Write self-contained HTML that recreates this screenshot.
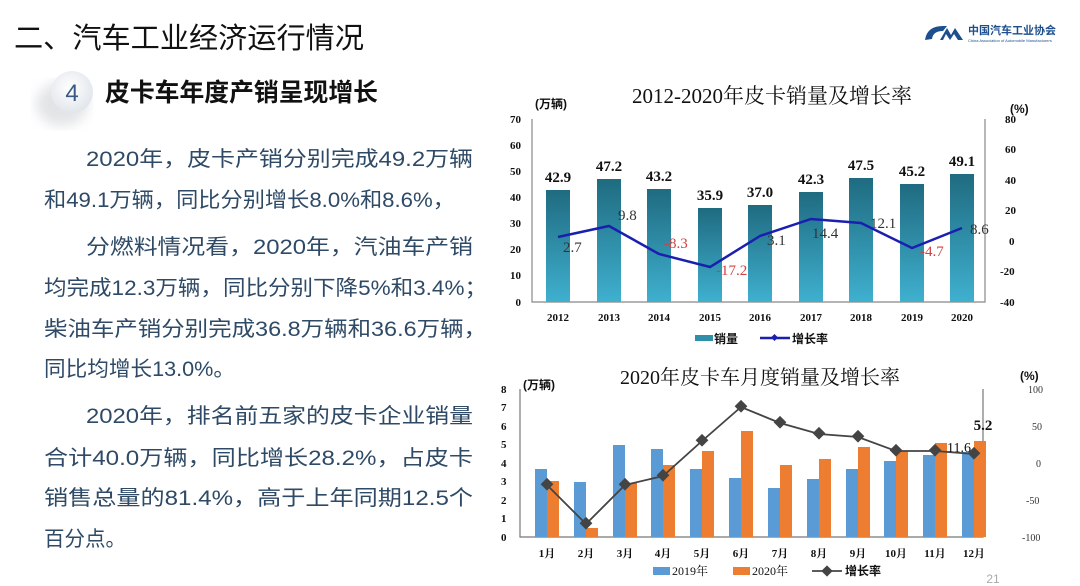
<!DOCTYPE html>
<html><head><meta charset="utf-8"><style>
html,body{margin:0;padding:0;background:#fff;}
svg{display:block;font-family:"Liberation Sans","Noto Sans CJK SC",sans-serif;}
.s{font-family:"Liberation Serif","Noto Serif CJK SC",serif;}
</style></head><body>
<svg width="1080" height="586" viewBox="0 0 1080 586" xmlns="http://www.w3.org/2000/svg">
<defs>
<linearGradient id="bg1" x1="0" y1="0" x2="0" y2="1"><stop offset="0" stop-color="#1f6b80"/><stop offset="1" stop-color="#3fb0cf"/></linearGradient>
<radialGradient id="cg" cx="0.45" cy="0.4" r="0.7"><stop offset="0" stop-color="#fff"/><stop offset="1" stop-color="#dde2e8"/></radialGradient>
<filter id="bl"><feGaussianBlur stdDeviation="6"/></filter>
</defs>
<!-- header -->
<text x="14" y="48" font-size="29" fill="#111" textLength="350" lengthAdjust="spacingAndGlyphs">二、汽车工业经济运行情况</text>
<path d="M925 40 q2 -14 18 -14 l4 0 l-4 5 q-10 0 -11 8 z" fill="#1d4f8f"/>
<path d="M940 40 l7 -12 l4 7 l4 -7 l8 12 h-5 l-4 -6 l-4 6 l-4 -6 l-3 6z" fill="#1d4f8f"/>
<text x="968" y="34" font-size="11" font-weight="bold" fill="#1d4f8f">中国汽车工业协会</text>
<text x="968" y="42" font-size="4" fill="#1d4f8f">China Association of Automobile Manufacturers</text>
<ellipse cx="62" cy="104" rx="26" ry="22" fill="#cfd2d6" opacity="0.6" filter="url(#bl)"/>
<circle cx="72" cy="92" r="21" fill="url(#cg)"/>
<text x="72" y="101" font-size="24" fill="#3a5a85" text-anchor="middle">4</text>
<text x="105" y="101" font-size="25" font-weight="bold" fill="#111" textLength="273" lengthAdjust="spacingAndGlyphs">皮卡车年度产销呈现增长</text>
<!-- body text -->
<g font-size="21" fill="#2e4a66">
<text x="86" y="166" textLength="387" lengthAdjust="spacingAndGlyphs">2020年，皮卡产销分别完成49.2万辆</text>
<text x="44" y="207" textLength="411" lengthAdjust="spacingAndGlyphs">和49.1万辆，同比分别增长8.0%和8.6%，</text>
<text x="86" y="254" textLength="387" lengthAdjust="spacingAndGlyphs">分燃料情况看，2020年，汽油车产销</text>
<text x="44" y="295" textLength="443" lengthAdjust="spacingAndGlyphs">均完成12.3万辆，同比分别下降5%和3.4%；</text>
<text x="44" y="336" textLength="443" lengthAdjust="spacingAndGlyphs">柴油车产销分别完成36.8万辆和36.6万辆，</text>
<text x="44" y="376" textLength="191" lengthAdjust="spacingAndGlyphs">同比均增长13.0%。</text>
<text x="86" y="423" textLength="387" lengthAdjust="spacingAndGlyphs">2020年，排名前五家的皮卡企业销量</text>
<text x="44" y="465" textLength="429" lengthAdjust="spacingAndGlyphs">合计40.0万辆，同比增长28.2%，占皮卡</text>
<text x="44" y="505" textLength="429" lengthAdjust="spacingAndGlyphs">销售总量的81.4%，高于上年同期12.5个</text>
<text x="44" y="546" textLength="82" lengthAdjust="spacingAndGlyphs">百分点。</text>
</g>

<!-- chart 1 -->
<text x="772" y="103" class="s" font-size="21" fill="#111" text-anchor="middle">2012-2020年皮卡销量及增长率</text>
<text x="535" y="108" font-size="12" font-weight="bold" fill="#111">(万辆)</text>
<text x="1010" y="113" font-size="12" font-weight="bold" fill="#111">(%)</text>
<g font-size="11" font-weight="bold" fill="#111" class="s" text-anchor="end">
<text x="521" y="123">70</text><text x="521" y="149">60</text><text x="521" y="175">50</text><text x="521" y="201">40</text><text x="521" y="227">30</text><text x="521" y="253">20</text><text x="521" y="279">10</text><text x="521" y="306">0</text>
</g>
<g font-size="11" font-weight="bold" fill="#111" class="s">
<text x="1005" y="123">80</text><text x="1005" y="153">60</text><text x="1005" y="184">40</text><text x="1005" y="214">20</text><text x="1009" y="245">0</text><text x="1000" y="275">-20</text><text x="1000" y="306">-40</text>
</g>
<polyline points="532,119 532,302 985,302 985,119" fill="none" stroke="#888" stroke-width="1.2"/>
<g fill="url(#bg1)">
<rect x="546" y="190" width="24" height="112"/>
<rect x="597" y="179" width="24" height="123"/>
<rect x="647" y="189" width="24" height="113"/>
<rect x="698" y="208" width="24" height="94"/>
<rect x="748" y="205" width="24" height="97"/>
<rect x="799" y="192" width="24" height="110"/>
<rect x="849" y="178" width="24" height="124"/>
<rect x="900" y="184" width="24" height="118"/>
<rect x="950" y="174" width="24" height="128"/>
</g>
<g class="s" font-size="15" font-weight="bold" fill="#111" text-anchor="middle">
<text x="558" y="182">42.9</text><text x="609" y="171">47.2</text><text x="659" y="181">43.2</text><text x="710" y="200">35.9</text><text x="760" y="197">37.0</text><text x="811" y="184">42.3</text><text x="861" y="170">47.5</text><text x="912" y="176">45.2</text><text x="962" y="166">49.1</text>
</g>
<polyline points="558,237 609,226 659,254 710,267 760,236 811,219 861,223 912,248 962,228" fill="none" stroke="#1a1fb0" stroke-width="2.5"/>
<g class="s" font-size="15" fill="#333">
<text x="563" y="252">2.7</text><text x="618" y="220">9.8</text><text x="767" y="245">3.1</text><text x="812" y="238">14.4</text><text x="870" y="228">12.1</text><text x="970" y="234">8.6</text>
</g>
<g class="s" font-size="15" fill="#d04040">
<text x="664" y="248">-8.3</text><text x="716" y="275">-17.2</text><text x="920" y="256">-4.7</text>
</g>
<g class="s" font-size="11" font-weight="bold" fill="#111" text-anchor="middle">
<text x="558" y="321">2012</text><text x="609" y="321">2013</text><text x="659" y="321">2014</text><text x="710" y="321">2015</text><text x="760" y="321">2016</text><text x="811" y="321">2017</text><text x="861" y="321">2018</text><text x="912" y="321">2019</text><text x="962" y="321">2020</text>
</g>
<rect x="695" y="335" width="18" height="6" fill="#2f8fa8"/>
<text x="714" y="343" font-size="12" font-weight="bold" fill="#111">销量</text>
<line x1="760" y1="338" x2="790" y2="338" stroke="#1a1fb0" stroke-width="2.5"/>
<rect x="772" y="335" width="5" height="5" fill="#1a1fb0" transform="rotate(45 774.5 337.5)"/>
<text x="792" y="343" font-size="12" font-weight="bold" fill="#111">增长率</text>

<!-- chart 2 -->
<text x="760" y="384" font-size="20" fill="#111" text-anchor="middle" class="s">2020年皮卡车月度销量及增长率</text>
<text x="523" y="389" font-size="12" font-weight="bold" fill="#111">(万辆)</text>
<text x="1020" y="380" font-size="12" font-weight="bold" fill="#111">(%)</text>
<g font-size="11" font-weight="bold" fill="#111" class="s">
<text x="501" y="393">8</text><text x="501" y="411">7</text><text x="501" y="430">6</text><text x="501" y="448">5</text><text x="501" y="467">4</text><text x="501" y="485">3</text><text x="501" y="504">2</text><text x="501" y="522">1</text><text x="501" y="541">0</text>
</g>
<g font-size="10" fill="#333" class="s">
<text x="1028" y="393">100</text><text x="1032" y="430">50</text><text x="1036" y="467">0</text><text x="1026" y="504">-50</text><text x="1022" y="541">-100</text>
</g>
<polyline points="520,389 520,537 983,537 983,389" fill="none" stroke="#777" stroke-width="1.2"/>
<g fill="#5b9bd5">
<rect x="535" y="469" width="12" height="68"/><rect x="574" y="482" width="12" height="55"/><rect x="613" y="445" width="12" height="92"/><rect x="651" y="449" width="12" height="88"/><rect x="690" y="469" width="12" height="68"/><rect x="729" y="478" width="12" height="59"/><rect x="768" y="488" width="12" height="49"/><rect x="807" y="479" width="12" height="58"/><rect x="846" y="469" width="12" height="68"/><rect x="884" y="461" width="12" height="76"/><rect x="923" y="455" width="12" height="82"/><rect x="962" y="452" width="12" height="85"/>
</g>
<g fill="#ed7d31">
<rect x="547" y="481" width="12" height="56"/><rect x="586" y="528" width="12" height="9"/><rect x="625" y="483" width="12" height="54"/><rect x="663" y="465" width="12" height="72"/><rect x="702" y="451" width="12" height="86"/><rect x="741" y="431" width="12" height="106"/><rect x="780" y="465" width="12" height="72"/><rect x="819" y="459" width="12" height="78"/><rect x="858" y="447" width="12" height="90"/><rect x="896" y="451" width="12" height="86"/><rect x="935" y="443" width="12" height="94"/><rect x="974" y="441" width="12" height="96"/>
</g>
<polyline points="547,485 586,524 625,485 663,476 702,441 741,407 780,423 819,434 858,437 896,451 935,451 974,454" fill="none" stroke="#444" stroke-width="1.8"/>
<g fill="#444">
<rect x="542" y="480" width="9" height="9" transform="rotate(45 547 485)"/><rect x="581" y="519" width="9" height="9" transform="rotate(45 586 524)"/><rect x="620" y="480" width="9" height="9" transform="rotate(45 625 485)"/><rect x="658" y="471" width="9" height="9" transform="rotate(45 663 476)"/><rect x="697" y="436" width="9" height="9" transform="rotate(45 702 441)"/><rect x="736" y="402" width="9" height="9" transform="rotate(45 741 407)"/><rect x="775" y="418" width="9" height="9" transform="rotate(45 780 423)"/><rect x="814" y="429" width="9" height="9" transform="rotate(45 819 434)"/><rect x="853" y="432" width="9" height="9" transform="rotate(45 858 437)"/><rect x="891" y="446" width="9" height="9" transform="rotate(45 896 451)"/><rect x="930" y="446" width="9" height="9" transform="rotate(45 935 451)"/><rect x="969" y="449" width="9" height="9" transform="rotate(45 974 454)"/>
</g>
<text x="983" y="430" class="s" font-size="15" font-weight="bold" fill="#111" text-anchor="middle">5.2</text>
<text x="959" y="452" class="s" font-size="14" fill="#111" text-anchor="middle">11.6</text>
<g class="s" font-size="11" font-weight="bold" fill="#111" text-anchor="middle">
<text x="547" y="557">1月</text><text x="586" y="557">2月</text><text x="625" y="557">3月</text><text x="663" y="557">4月</text><text x="702" y="557">5月</text><text x="741" y="557">6月</text><text x="780" y="557">7月</text><text x="819" y="557">8月</text><text x="858" y="557">9月</text><text x="896" y="557">10月</text><text x="935" y="557">11月</text><text x="974" y="557">12月</text>
</g>
<rect x="653" y="567" width="17" height="8" fill="#5b9bd5"/>
<text x="672" y="575" class="s" font-size="12" fill="#111">2019年</text>
<rect x="733" y="567" width="17" height="8" fill="#ed7d31"/>
<text x="752" y="575" class="s" font-size="12" fill="#111">2020年</text>
<line x1="812" y1="571" x2="842" y2="571" stroke="#444" stroke-width="1.8"/>
<rect x="823" y="567" width="8" height="8" fill="#444" transform="rotate(45 827 571)"/>
<text x="845" y="575" font-size="12" font-weight="bold" fill="#111">增长率</text>
<text x="993" y="583" font-size="12" fill="#aaa" text-anchor="middle">21</text>
</svg>
</body></html>
